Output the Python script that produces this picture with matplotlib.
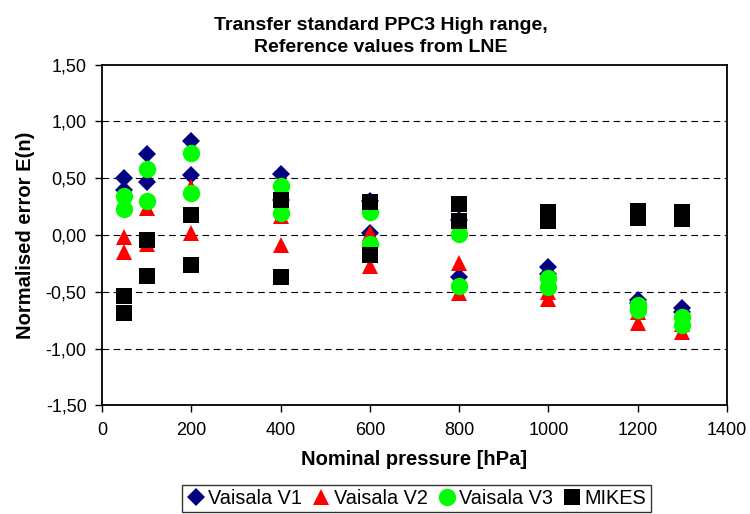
import matplotlib
matplotlib.use("Agg")
import matplotlib.pyplot as plt
from matplotlib.ticker import FuncFormatter

plt.rcParams['font.family'] = ['Liberation Sans', 'DejaVu Sans']

# nominal pressures, two measurements per point
pressure = [50, 50, 100, 100, 200, 200, 400, 400, 600, 600,
            800, 800, 1000, 1000, 1200, 1200, 1300, 1300]

vaisala_v1 = [0.50, 0.40, 0.71, 0.47, 0.83, 0.53, 0.54, 0.31, 0.30, 0.02,
              0.13, -0.37, -0.28, -0.34, -0.57, -0.60, -0.64, -0.68]
vaisala_v2 = [-0.02, -0.15, 0.24, -0.08, 0.42, 0.02, 0.17, -0.09, 0.02, -0.27,
              -0.25, -0.51, -0.50, -0.56, -0.68, -0.77, -0.78, -0.85]
vaisala_v3 = [0.34, 0.23, 0.58, 0.30, 0.72, 0.37, 0.43, 0.19, 0.20, -0.08,
              0.01, -0.45, -0.38, -0.46, -0.62, -0.66, -0.72, -0.79]
mikes = [-0.54, -0.69, -0.04, -0.36, 0.18, -0.26, 0.31, -0.37, 0.29, -0.18,
         0.27, 0.12, 0.20, 0.12, 0.21, 0.15, 0.20, 0.14]

fig = plt.figure(figsize=(7.5, 5.14), dpi=100)
ax = fig.add_axes([0.136, 0.2111, 0.8333, 0.6634])

ax.plot(pressure, vaisala_v1, 'D', color='#000080', ms=9.5, mew=0, label='Vaisala V1')
ax.plot(pressure, vaisala_v2, '^', color='#ff0000', ms=12, mew=0, label='Vaisala V2')
ax.plot(pressure, vaisala_v3, 'o', color='#00ff00', ms=12.5, mew=0, label='Vaisala V3')
ax.plot(pressure, mikes, 's', color='#000000', ms=11, mew=0, label='MIKES')

ax.set_xlim(0, 1400)
ax.set_ylim(-1.5, 1.5)
ax.set_xticks(range(0, 1401, 200))
ax.set_yticks([-1.5, -1.0, -0.5, 0, 0.5, 1.0, 1.5])
ax.yaxis.set_major_formatter(FuncFormatter(lambda v, p: f"{v:.2f}".replace('.', ',')))
for yv in [-1.0, -0.5, 0, 0.5, 1.0]:
    ax.axhline(yv, color='black', lw=0.8, ls=(0, (6, 4)), zorder=0)

for s in ax.spines.values():
    s.set_linewidth(1.3)
ax.tick_params(direction='out', length=5, width=1, labelsize=13)
ax.tick_params(axis='y', pad=6)
ax.tick_params(axis='x', pad=7)

fig.text(0.508, 0.929, 'Transfer standard PPC3 High range,\nReference values from LNE',
         ha='center', va='center', fontsize=14, fontweight='bold', linespacing=1.35)
ax.set_xlabel('Nominal pressure [hPa]', fontsize=14.5, fontweight='bold', labelpad=8)
ax.set_ylabel('Normalised error E(n)', fontsize=14.5, fontweight='bold', labelpad=8)

leg = fig.legend(loc='lower center', bbox_to_anchor=(0.555, 0.0), ncol=4,
                 fontsize=14.3, frameon=True, fancybox=False, handletextpad=0.12,
                 columnspacing=0.47, borderpad=0.2, handlelength=1.0,
                 borderaxespad=0.1)
leg.get_frame().set_edgecolor('black')
leg.get_frame().set_linewidth(1.0)

fig.savefig('out.png', dpi=100)
